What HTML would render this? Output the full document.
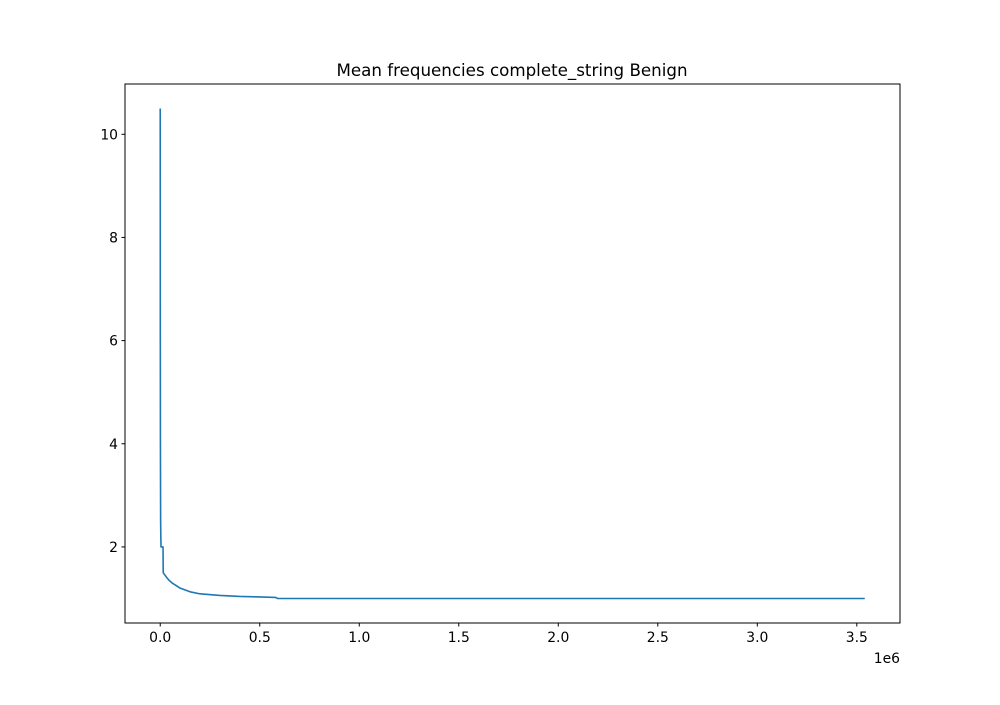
<!DOCTYPE html>
<html><head><meta charset="utf-8"><style>
body{margin:0;background:#fff}
svg text{font-family:"DejaVu Sans","Liberation Sans",sans-serif;font-size:13.9px;fill:#000}
</style></head><body>
<svg id="chart" width="1000" height="700">
<rect x="0" y="0" width="1000" height="700" fill="#fff"/>
<text x="512" y="76" text-anchor="middle" style="font-size:16.7px">Mean frequencies complete_string Benign</text>
<g id="plot"></g>
<rect x="125" y="84" width="775" height="539" fill="none" stroke="#000" stroke-width="1"/>
<text x="900" y="663" text-anchor="end">1e6</text>
</svg>
<script>
const xs = [0,0.0005,0.001,0.002,0.003,0.004,0.014,0.015,0.03,0.045,0.06,0.08,0.1,0.15,0.2,0.3,0.4,0.5,0.58,0.59,3.54];
const ys = [10.5,6,4,2.5,2.2,2.0,2.0,1.5,1.42,1.35,1.3,1.25,1.2,1.13,1.09,1.06,1.04,1.03,1.02,1.0,1.0];
const xTicks = [0,0.5,1.0,1.5,2.0,2.5,3.0,3.5];
const yTicks = [2,4,6,8,10];
const X0=125,X1=900,Y0=623,Y1=84;
const xmin=-0.177,xmax=3.717,ymin=0.525,ymax=10.975;
const sx=v=>X0+(v-xmin)/(xmax-xmin)*(X1-X0);
const sy=v=>Y0-(v-ymin)/(ymax-ymin)*(Y0-Y1);
const g=document.getElementById('plot');
const NS='http://www.w3.org/2000/svg';
function mk(t,a){const e=document.createElementNS(NS,t);for(const k in a)e.setAttribute(k,a[k]);g.appendChild(e);return e;}
xTicks.forEach(v=>{
  const t=mk('line',{x1:sx(v),x2:sx(v),y1:Y0,y2:Y0+3.5,stroke:'#000'});
  
  
  const l=mk('text',{x:sx(v),y:Y0+19,'text-anchor':'middle'});l.textContent=v.toFixed(1);
  
  
});
yTicks.forEach(v=>{
  const t=mk('line',{x1:X0-3.5,x2:X0,y1:sy(v),y2:sy(v),stroke:'#000'});
  
  
  const l=mk('text',{x:X0-7,y:sy(v)+5,'text-anchor':'end'});l.textContent=v;
  
  
});
const p=mk('polyline',{points:xs.map((x,i)=>sx(x)+','+sy(ys[i])).join(' '),fill:'none',stroke:'#1f77b4','stroke-width':1.6,'stroke-linejoin':'round'});


</script>
</body></html>
